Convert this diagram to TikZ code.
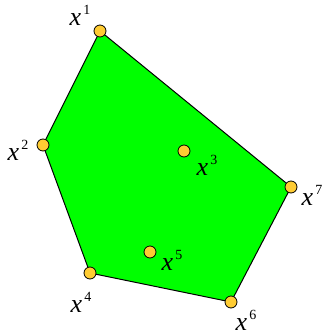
\documentclass[tikz,border=0pt]{standalone}
\usepackage{fontspec}
\setmainfont{Liberation Serif}
\definecolor{polygreen}{RGB}{0,255,0}
\definecolor{dotgold}{RGB}{255,204,51}
\newcommand{\xlab}[1]{\fontsize{26}{28}\selectfont\itshape x\raisebox{11pt}{\fontsize{14}{16}\selectfont\upshape\,#1}}
\begin{document}
\begin{tikzpicture}[x=1pt,y=-1pt,
  pt/.style={circle,draw=black,fill=dotgold,line width=0.8pt,inner sep=0pt,minimum size=12pt},
  lab/.style={inner sep=0pt}]
\useasboundingbox (0,0) rectangle (324,336);
\coordinate (p1) at (100,31);
\coordinate (p2) at (43,145);
\coordinate (p4) at (90,273);
\coordinate (p6) at (231,302);
\coordinate (p7) at (291,187);
\filldraw[fill=polygreen,draw=black,line width=1pt,line join=miter] (p1) -- (p7) -- (p6) -- (p4) -- (p2) -- cycle;
\node[pt] (n1) at (p1) {};
\node[pt] (n2) at (p2) {};
\node[pt] (n3) at (184,151) {};
\node[pt] (n4) at (p4) {};
\node[pt] (n5) at (150,252) {};
\node[pt] (n6) at (p6) {};
\node[pt] (n7) at (p7) {};
\node[lab] (l1) at (80,15) {\xlab{1}};
\node[lab] (l2) at (18,150) {\xlab{2}};
\node[lab] (l3) at (207,165) {\xlab{3}};
\node[lab] (l4) at (81,302) {\xlab{4}};
\node[lab] (l5) at (172,260) {\xlab{5}};
\node[lab] (l6) at (246,320) {\xlab{6}};
\node[lab] (l7) at (312,195) {\xlab{7}};
\end{tikzpicture}
\end{document}
